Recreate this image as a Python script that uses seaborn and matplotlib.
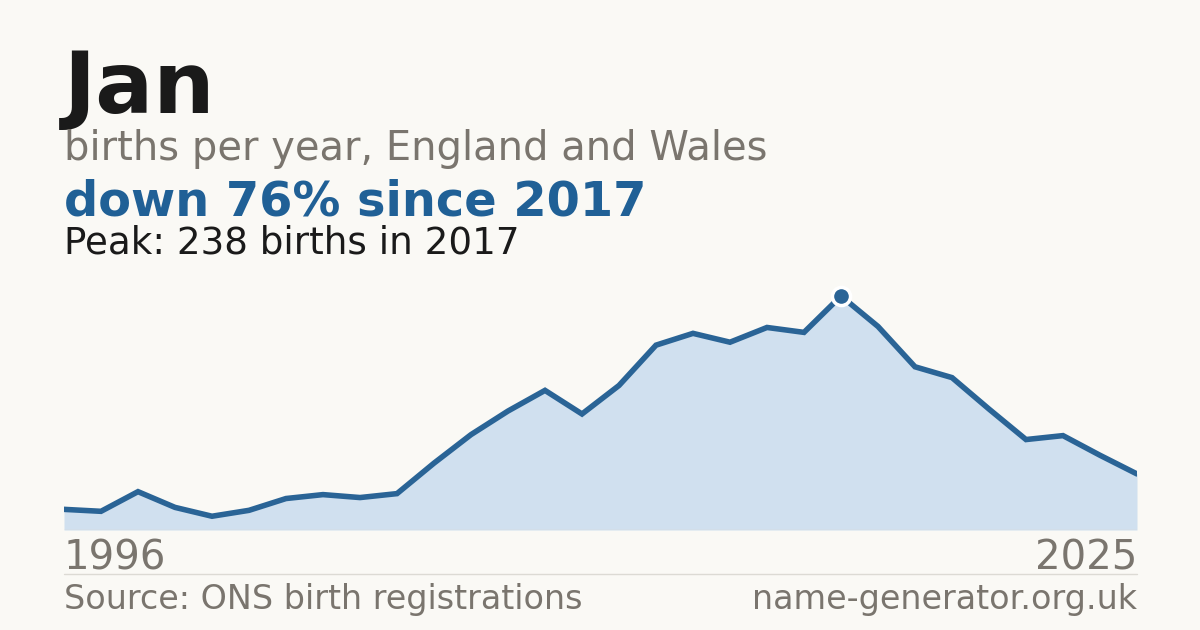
import matplotlib
matplotlib.use("Agg")
import matplotlib.pyplot as plt
import seaborn as sns
import pandas as pd

years = list(range(1996, 2026))
births = [21, 19, 39, 23, 14, 20, 32, 36, 33, 37, 68, 97, 121, 142, 118, 147, 188, 200, 191, 206, 201, 238, 207, 166, 155, 123, 92, 96, 76, 57]

title = "Jan"
subtitle = "births per year, England and Wales"
headline = "down 76% since 2017"
peak_text = "Peak: 238 births in 2017"
source_text = "Source: ONS birth registrations"
site_text = "name-generator.org.uk"

BG = "#faf9f5"
LINE = "#2a6496"
FILL = "#d0e0ef"
BLUE = "#206096"
GRAY = "#7a756e"
DARK = "#1a1a1a"

sns.set_theme(style="white")
plt.rcParams['font.family'] = ['DejaVu Sans']

df = pd.DataFrame({"year": years, "births": births})

W, H = 1200, 630
fig = plt.figure(figsize=(12, 6.3), dpi=100, facecolor=BG)
ax = fig.add_axes([64 / W, 1 - 530 / H, (1137 - 64) / W, 250 / H])
ax.set_facecolor("none")

ax.fill_between(df["year"], df["births"], 0, color=FILL, linewidth=0)
sns.lineplot(data=df, x="year", y="births", ax=ax, color=LINE, linewidth=4,
             solid_joinstyle="miter")
peak_i = births.index(max(births))
ax.scatter([years[peak_i]], [births[peak_i]], s=170, color=LINE, edgecolor="white",
           linewidth=2.5, zorder=5, clip_on=False)

ax.set_xlim(years[0], years[-1])
ax.set_ylim(0, 238 * 250 / 234)
ax.axis("off")
ax.axhline(0, color="#dcdad4", linewidth=1)

def ft(x, y, s, **kw):
    fig.text(x / W, 1 - y / H, s, va="baseline", **kw)

ft(64, 113, title, fontsize=62, fontweight="bold", color=DARK)
ft(64, 160, subtitle, fontsize=28.8, color=GRAY)
ft(64, 215, headline, fontsize=34.5, fontweight="bold", color=BLUE)
ft(64, 254, peak_text, fontsize=26.8, color=DARK)
ft(64, 569.5, str(years[0]), fontsize=29, color=GRAY)
ft(1137, 569.5, str(years[-1]), fontsize=29, color=GRAY, ha="right")
ft(64, 609, source_text, fontsize=24, color=GRAY)
ft(1137, 609, site_text, fontsize=24, color=GRAY, ha="right")

fig.add_artist(plt.Line2D([64 / W, 1137 / W], [1 - 574 / H, 1 - 574 / H],
                          color="#dcdad4", linewidth=1))

fig.savefig("out.png", dpi=100, facecolor=BG)
